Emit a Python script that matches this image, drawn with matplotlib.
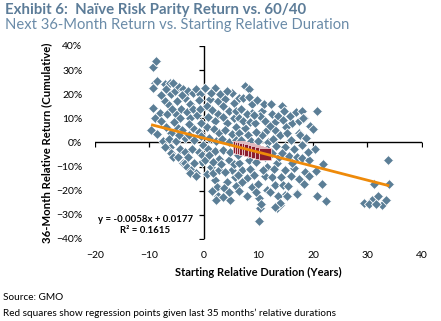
import matplotlib
matplotlib.use("Agg")
import matplotlib.pyplot as plt
from matplotlib.ticker import PercentFormatter

plt.rcParams['font.family'] = ['Lato', 'DejaVu Sans']

# starting relative duration (years) and next 36-month relative return (%)
duration = [
    # -10 .. -6
    -9.3, -8.8, -9.0, -9.4, -8.6, -7.2, -7.0, -7.2, -9.4, -8.1, -9.0, -9.7, -7.9,
    -8.6, -7.5, -6.2, -6.2, -6.0, -6.0, -7.0, -6.5, -6.8, -7.8, -6.4, -7.2, -6.0,
    # -6 .. -3
    -5.7, -5.3, -5.1, -4.2, -4.4, -3.5, -4.8, -3.5, -5.7, -4.8, -4.4, -3.8, -3.5,
    -3.1, -5.0, -4.5, -3.8, -5.5, -4.0, -3.2, -5.2, -4.6, -3.4, -5.8, -4.0,
    # -3 .. 0
    -2.9, -2.0, -1.5, -0.7, -2.6, -2.9, -2.4, -1.5, -2.6, -0.2, -2.0, -1.0, -2.5,
    -1.2, -0.5, -2.0, -1.0, -2.8, -1.8, -0.6, -2.2, -1.0, -0.4, -1.8, -0.8, -2.8,
    -0.3, -1.5,
    # 0 .. 3
    0.2, 2.0, 1.1, 2.6, 0.2, 1.3, 2.6, 2.6, 2.0, 2.4, 0.5, 1.5, 2.5, 0.8, 2.0,
    0.5, 1.8, 2.8, 1.0, 2.2, 0.8, 2.0, 1.0, 2.8, 0.6, 1.6, 2.8, 1.5, 2.2, 1.2,
    2.9, 1.6,
    # 3 .. 6
    3.9, 5.1, 4.6, 4.2, 5.1, 4.6, 5.1, 4.2, 4.8, 3.9, 3.5, 5.5, 3.5, 5.5, 3.8,
    5.8, 3.3, 4.5, 5.8, 3.5, 4.8, 3.2, 5.5, 3.6, 5.6, 4.5, 3.4, 5.8, 4.2, 5.8,
    # 6 .. 9
    7.5, 8.3, 6.4, 8.8, 8.8, 6.4, 7.5, 7.0, 7.9, 6.4, 8.3, 8.8, 6.8, 7.8, 7.2,
    8.5, 6.5, 8.0, 6.8, 8.6, 7.2, 6.3, 8.0, 7.0, 8.5, 6.5, 7.8, 7.2, 8.2, 6.2,
    # 9 .. 12
    9.4, 10.6, 11.2, 10.6, 9.2, 10.1, 10.3, 10.1, 11.6, 11.2, 9.5, 9.8, 11.0,
    10.2, 9.6, 11.5, 10.0, 11.8, 9.3, 10.5, 11.6, 10.0, 11.2, 9.5, 11.5, 10.8,
    9.2, 10.5,
    # 12 .. 15
    14.3, 14.7, 12.5, 13.0, 13.0, 12.5, 13.0, 13.4, 14.0, 14.9, 13.4, 14.9, 14.9,
    13.8, 13.6, 14.0, 13.0, 12.3, 13.5, 14.5, 12.2, 14.0, 12.6, 13.2, 12.4, 14.4,
    12.8, 14.2, 15.0, 12.2, 14.5,
    # 15 .. 18
    16.1, 15.2, 17.4, 17.0, 16.5, 16.5, 17.0, 15.2, 17.6, 15.8, 16.8, 16.0, 15.6,
    17.0, 16.0, 17.5, 15.5, 17.5, 16.2,
    # 18 .. 23
    18.0, 18.3, 20.7, 18.2, 19.4, 20.0, 18.0, 18.0, 18.3, 18.5, 20.4, 21.8, 21.7,
    20.7, 22.4, 19.3, 19.3, 18.8, 19.0, 20.5,
    # long duration tail
    33.8, 34.0, 31.2, 29.4, 30.8, 32.0, 32.7, 33.4, 30.2, 31.5,
]
rel_return = [
    31.4, 33.9, 24.8, 22.7, 25.5, 24.4, 22.3, 17.4, 14.5, 12.4, 10.3, 5.0, 9.1,
    3.7, 0.8, -2.0, 24.8, 20.2, 4.1, 6.5, 15.5, 12.0, 19.5, 1.5, -2.0, -4.5,
    24.8, 21.5, 12.0, 14.0, 10.3, 18.6, 6.2, 2.0, -6.2, -6.2, -2.5, -8.7, -8.7,
    -10.3, 17.0, 23.0, 22.0, 8.5, 5.0, 12.5, 0.5, 3.0, -4.0, 13.8, 19.8,
    21.5, 20.7, 22.3, 20.2, 16.1, -6.2, -11.6, -12.8, -12.8, -1.2, 14.0, 17.5, 10.0,
    11.5, 8.0, 6.0, 4.5, 3.0, 1.0, 2.5, -2.5, -4.0, -8.0, -8.5, 14.0, 7.8,
    -5.0, -14.0,
    22.7, 22.7, 18.2, 17.4, -7.4, -10.3, -18.6, -22.0, -15.7, -18.6, 15.0, 13.5, 12.0, 10.5, 9.0,
    6.5, 5.5, 4.0, 2.0, 0.5, -2.5, -3.5, -5.0, -7.0, -13.0, -12.5, -11.5, -20.0, -24.0, 20.5,
    20.0, -8.0,
    18.2, 20.7, 13.2, 7.9, 3.7, -7.4, -11.6, -16.5, -24.0, -12.4, 15.0, 16.5, 10.5, 10.0, 5.0,
    6.5, 1.5, 0.0, 1.0, -3.0, -4.0, -9.0, -9.0, -19.0, -14.5, -20.5, -22.5, -18.0, 21.5, 13.0,
    23.6, 22.3, 18.6, 16.1, 12.4, 10.3, 6.2, -11.6, -14.9, -8.3, -7.4, -18.6, 14.0, 12.0, 9.0,
    8.5, 4.0, 3.0, 1.0, 0.5, -2.5, -5.0, -4.5, -16.5, -11.0, -20.0, -22.0, 18.5, 19.0, -13.5,
    7.9, 13.2, 9.1, 2.9, -13.6, -23.0, -27.3, -32.6, -10.3, -6.2, -8.0, 17.5, 16.0,
    11.0, 4.5, 5.0, 0.5, 0.0, -2.5, -4.0, -2.8, -17.0, -14.0, -20.5, -19.5, -11.5,
    11.5, -25.5,
    15.3, 13.2, 12.0, 8.3, 5.0, -14.5, -17.8, -27.3, -26.0, -21.9, -8.7, -11.6, -2.0,
    -6.2, -22.0, -25.0, -26.8, 16.0, 11.0, 9.5, 7.0, 3.0, 1.5, -1.5, -4.5, -4.5,
    -11.0, -14.5, 6.5, -20.5, -17.5,
    7.9, 4.1, 4.1, -21.0, -10.7, -2.5, -21.5, -22.0, 2.9, 11.0, 12.5, 1.0, -5.5,
    -6.0, -14.0, -15.0, -18.0, 9.0, -8.5,
    13.2, 10.3, 13.2, 10.3, 7.0, 5.4, -1.2, -6.6, -17.0, -12.4, -2.5, -9.0, -17.4,
    -22.0, -24.4, -14.0, -7.4, 2.0, -4.0, -12.0,
    -7.4, -17.0, -17.4, -25.0, -24.0, -22.0, -26.0, -24.0, -25.5, -25.5,
]

# last 35 months' relative durations (years)
recent_duration = [
    6.4, 6.4, 6.4, 6.4, 6.4, 6.4,
    6.8, 6.8, 6.8, 6.8, 6.8,
    7.2, 7.2, 7.2, 7.2, 7.2,
    7.6, 7.6, 7.6, 7.6,
    8.0, 8.0, 8.0,
    8.5, 8.5, 8.5,
    9.1, 9.1, 9.1,
    9.8, 9.8,
    10.5, 10.5,
    11.2, 11.2,
]

slope = -0.0058
intercept = 0.0177
r_squared = 0.1615

x_ticks = [-20, -10, 0, 10, 20, 30, 40]
y_ticks = [-40, -30, -20, -10, 0, 10, 20, 30, 40]

blue = '#5B7E96'
red = '#8C1D2E'
orange = '#EE8A0A'
title_col = '#5C7C98'

fig = plt.figure(figsize=(4.41, 3.21), dpi=100)
ax = fig.add_axes([0.2154, 0.2555, 0.7415, 0.6012])

# axes cross at zero, drawn beneath the points
ax.axhline(0, color='black', lw=1.0, zorder=1)
ax.axvline(0, color='black', lw=1.0, zorder=1)
ax.plot(x_ticks, [0] * len(x_ticks), ls='none', marker=3, ms=3.5, mew=0.9,
        color='black', zorder=1)
ax.plot([0] * len(y_ticks), y_ticks, ls='none', marker=0, ms=3.5, mew=0.9,
        color='black', zorder=1)

ax.plot(duration, rel_return, ls='none', marker='D', ms=5.3, mfc=blue,
        mec='white', mew=0.6, zorder=2)

x_fit = [min(duration), max(duration)]
y_fit = [100 * (slope * x + intercept) for x in x_fit]
ax.plot(x_fit, y_fit, color=orange, lw=2.0, zorder=4, solid_capstyle='butt')

y_reg = [100 * (slope * x + intercept) for x in recent_duration]
ax.plot(recent_duration, y_reg, ls='none', marker='s', ms=8.0, mfc=red,
        mec='#F4DDE0', mew=0.5, zorder=3)

ax.text(-10.8, -31.8, f'y = {slope:.4f}x + {intercept:.4f}', ha='center',
        va='center', fontsize=6.9, fontweight='bold')
ax.text(-10.8, -36.4, f'R² = {r_squared:.4f}', ha='center', va='center',
        fontsize=6.9, fontweight='bold')

ax.set_xlim(-20, 40)
ax.set_ylim(-40, 40)
ax.set_xticks(x_ticks)
ax.set_yticks(y_ticks)
ax.yaxis.set_major_formatter(PercentFormatter(decimals=0))
ax.tick_params(length=0, labelsize=7.5)
ax.tick_params(axis='y', pad=9)
ax.tick_params(axis='x', pad=9)
for s in ax.spines.values():
    s.set_visible(False)

ax.set_xlabel('Starting Relative Duration (Years)', fontsize=8,
              fontweight='bold', labelpad=5)
ax.set_ylabel('36-Month Relative Return (Cumulative)', fontsize=8.2,
              fontweight='bold', labelpad=3)

fig.text(0.012, 0.968, 'Exhibit 6:  Naïve Risk Parity Return vs. 60/40',
         fontsize=10.8, fontweight='bold', color=title_col, va='center')
fig.text(0.012, 0.923, 'Next 36-Month Return vs. Starting Relative Duration',
         fontsize=10.6, color='#6A8BA8', va='center')
fig.text(0.007, 0.072, 'Source: GMO', fontsize=7.2, va='center')
fig.text(0.007, 0.025,
         'Red squares show regression points given last 35 months\u2019 relative durations',
         fontsize=7.2, va='center')

fig.savefig('out.png', dpi=100)
